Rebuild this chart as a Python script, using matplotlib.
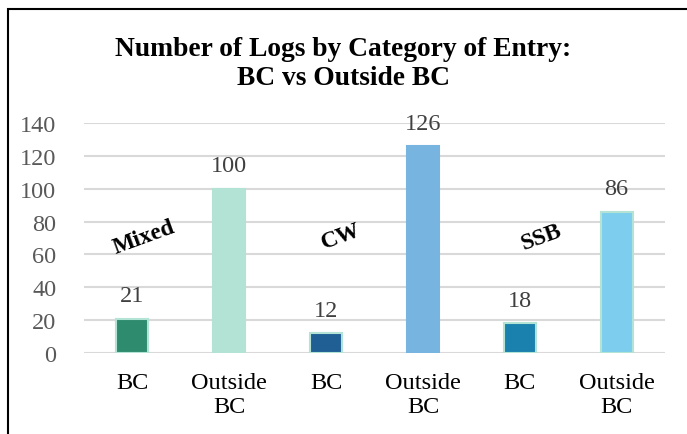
import matplotlib
matplotlib.use("Agg")
import matplotlib.pyplot as plt
from matplotlib.patches import Rectangle

categories = ["BC", "Outside\nBC", "BC", "Outside\nBC", "BC", "Outside\nBC"]
values = [21, 100, 12, 126, 18, 86]
groups = ["Mixed", "CW", "SSB"]
yticks = [0, 20, 40, 60, 80, 100, 120, 140]

colors = ["#2E8B6E", "#B3E3D5", "#1F5F94", "#78B4E0", "#1A80AE", "#7DCEEE"]
edges = ["#B3E3D5", "#B3E3D5", "#B3E3D5", "#78B4E0", "#B3E3D5", "#B3E3D5"]

plt.rcParams['font.family'] = ['Liberation Serif', 'DejaVu Serif']

fig = plt.figure(figsize=(6.87, 4.35), dpi=100)
fig.patches.append(Rectangle((8/687, -0.1), 1.2, (435-10)/435 + 0.1, transform=fig.transFigure,
                             fill=False, edgecolor="black", linewidth=1.5))

ax = fig.add_axes([84/687, 1 - 354/435, (665-84)/687, (354-124)/435])
x = list(range(len(values)))
bars = ax.bar(x, values, width=0.33, color=colors, edgecolor=edges, linewidth=1.5, zorder=3)
ax.set_ylim(0, 140)
ax.set_xlim(-0.5, len(values) - 0.5)
ax.set_yticks(yticks)
ax.set_yticklabels([str(t) for t in yticks], fontsize=17.5, color="#595959")
ax.set_xticks(x)
ax.set_xticklabels(categories, fontsize=17.5, color="black", linespacing=1.15)
ax.tick_params(axis="both", length=0)
ax.tick_params(axis="y", pad=20)
ax.tick_params(axis="x", pad=14)
ax.grid(axis="y", color="#D9D9D9", linewidth=1.5, zorder=0)
for s in ax.spines.values():
    s.set_visible(False)

for xi, v in zip(x, values):
    ax.text(xi, v + 7.5, str(v), ha="center", va="bottom", fontsize=17.5, color="#404040")

group_pos = [(0.12, 71), (2.16, 71), (4.22, 71)]
for g, (gx, gy) in zip(groups, group_pos):
    ax.text(gx, gy, g, ha="center", va="center", fontsize=17, fontweight="bold",
            rotation=20, color="black")

fig.text(0.5, 1 - 64/435, "Number of Logs by Category of Entry:\nBC vs Outside BC", ha="center",
         va="center", fontsize=19.8, fontweight="bold", linespacing=1.17)

fig.savefig("out.png", dpi=100)
